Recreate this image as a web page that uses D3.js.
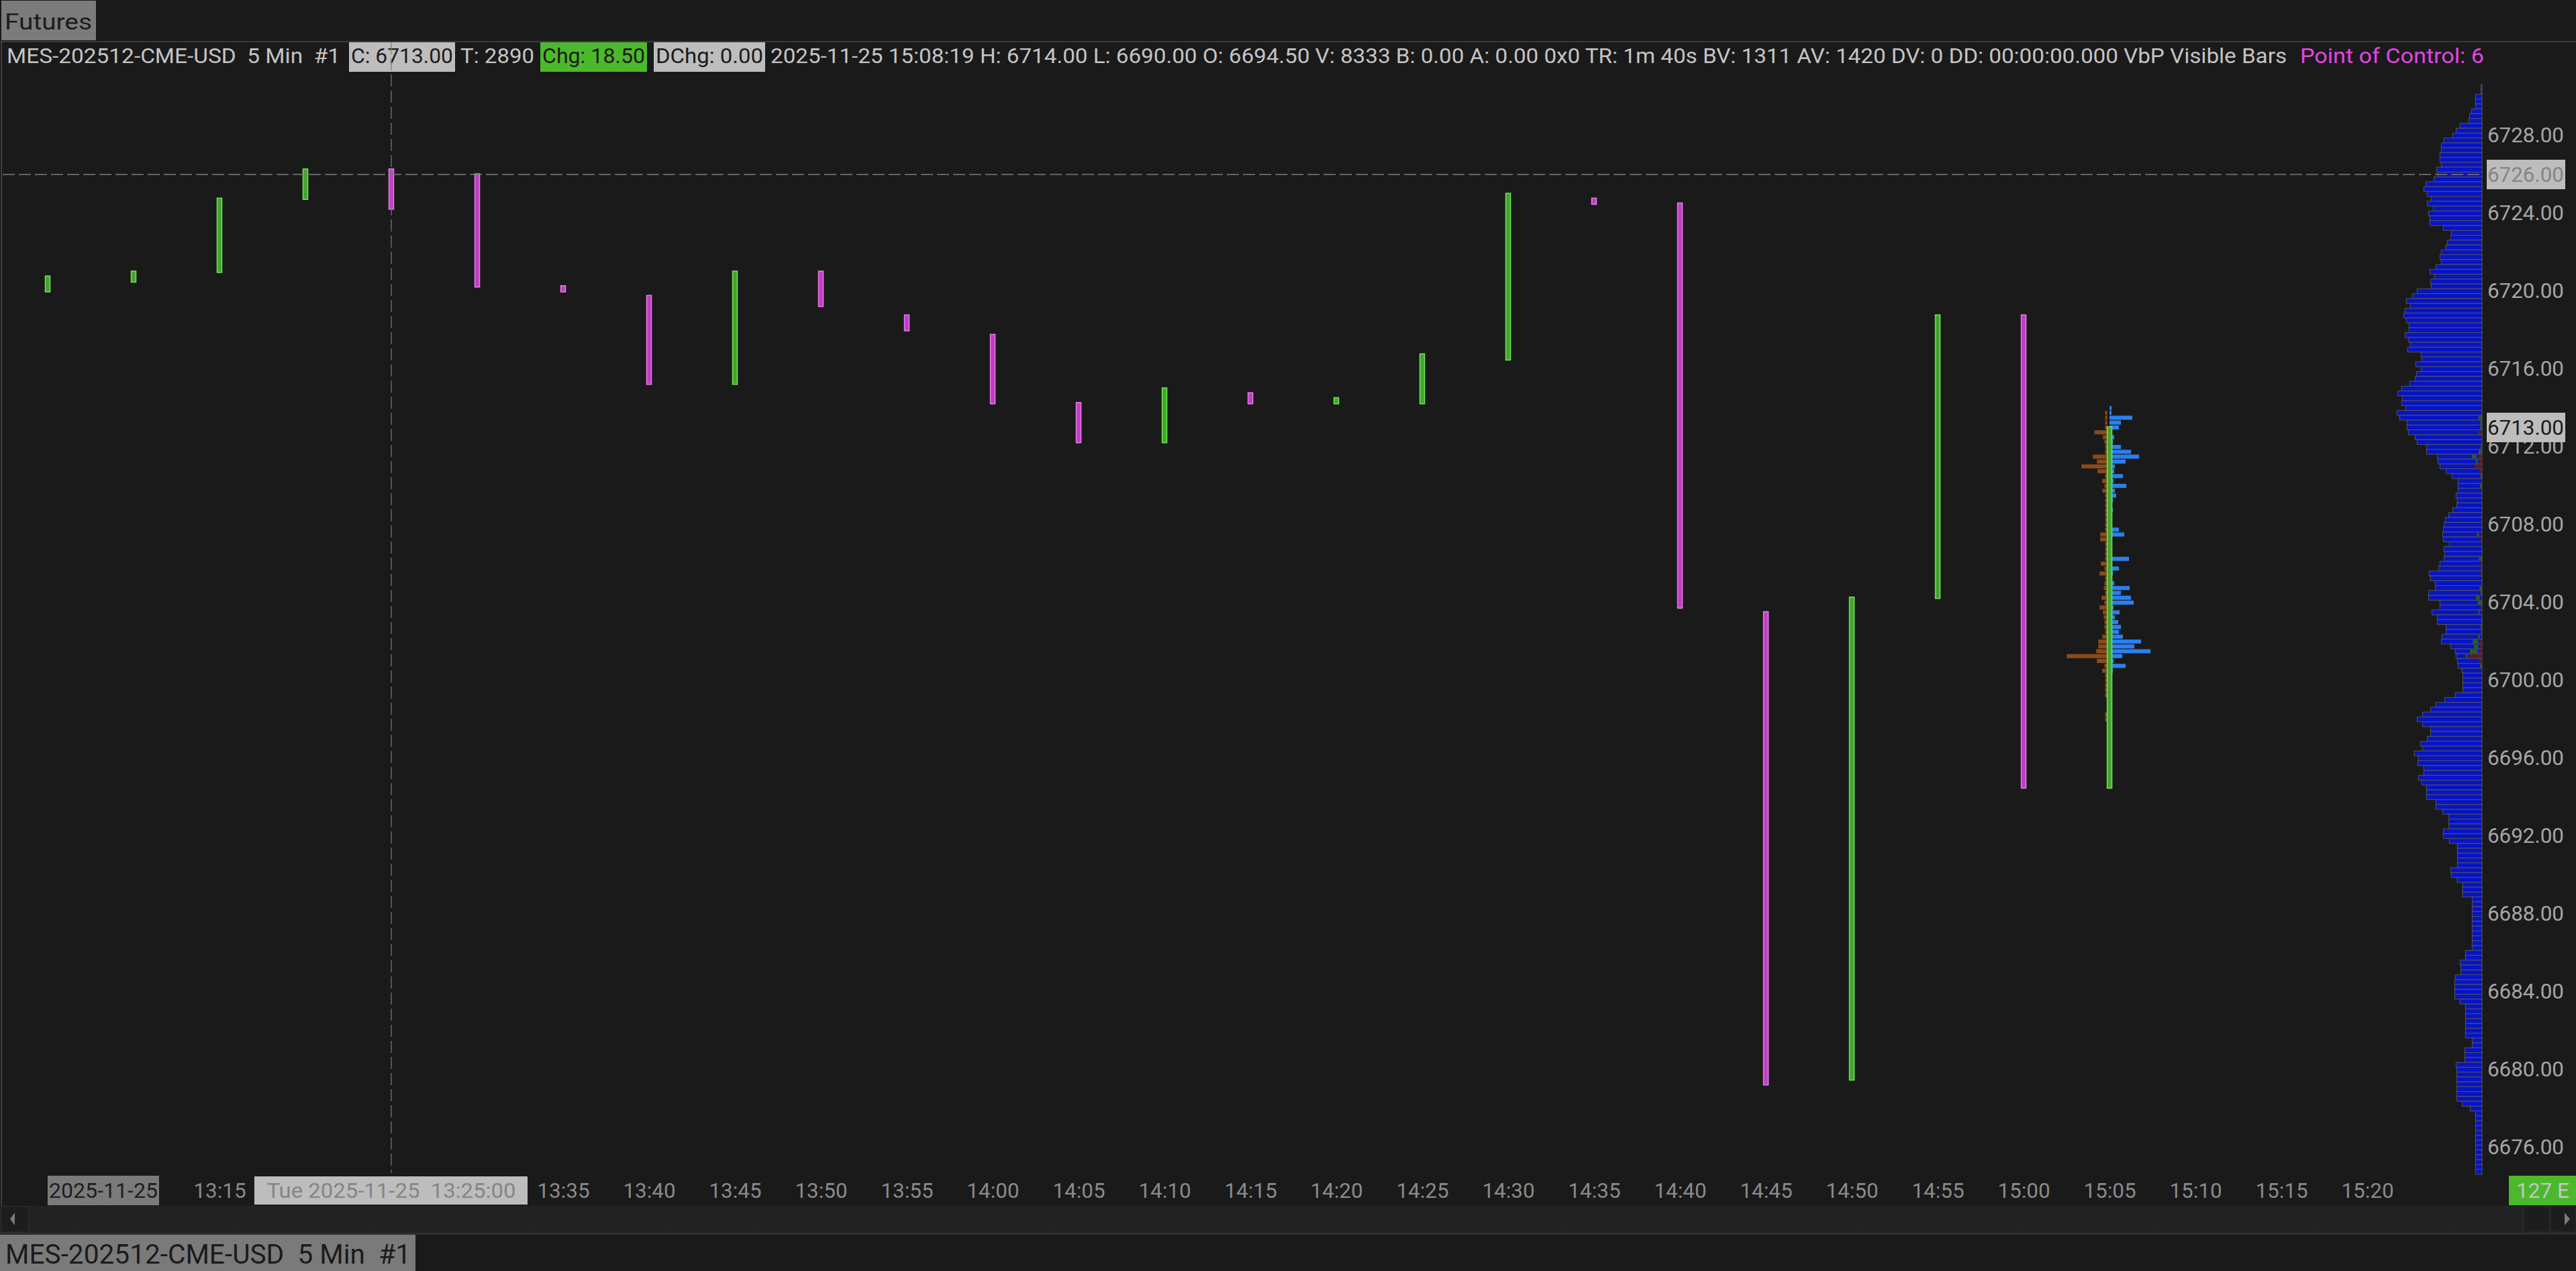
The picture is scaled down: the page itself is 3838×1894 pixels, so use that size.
<!DOCTYPE html>
<html><head><meta charset="utf-8">
<script src="https://cdn.jsdelivr.net/npm/d3@7"></script>
<style>
html,body{margin:0;padding:0;background:#1a1a1a;overflow:hidden}
text{white-space:pre;font-family:Roboto,"Liberation Sans",sans-serif}
</style>
</head><body>
<svg id="chart" width="3838" height="1894"></svg>
<script>
// ---------------- DATA ----------------
const barTimes = ["13:05","13:10","13:15","13:20","13:25","13:30","13:35","13:40","13:45","13:50","13:55","14:00","14:05","14:10","14:15","14:20","14:25","14:30","14:35","14:40","14:45","14:50","14:55","15:00","15:05"];
const barOpen  = [6720.00,6720.50,6721.00,6724.75,6726.25,6726.00,6720.25,6719.75,6715.25,6721.00,6718.75,6717.75,6714.25,6712.25,6714.75,6714.25,6714.25,6716.50,6724.75,6724.50,6703.50,6679.50,6704.25,6718.75,6694.50];
const barClose = [6720.75,6721.00,6724.75,6726.25,6724.25,6720.25,6720.00,6715.25,6721.00,6719.25,6718.00,6714.25,6712.25,6715.00,6714.25,6714.50,6716.75,6725.00,6724.50,6703.75,6679.25,6704.25,6718.75,6694.50,6713.00];

// time labels visible on the axis (13:20–13:30 are covered by the cursor label)
const timeTicks  = ["13:15","13:35","13:40","13:45","13:50","13:55","14:00","14:05","14:10","14:15","14:20","14:25","14:30","14:35","14:40","14:45","14:50","14:55","15:00","15:05","15:10","15:15","15:20"];
const priceTicks = [6728,6724,6720,6716,6712,6708,6704,6700,6696,6692,6688,6684,6680,6676];

// Volume by price (visible bars), from 6730.50 downward in 0.25 steps
const tickSize = 0.25;
const profileHigh = 6730.50;
const profileVolume = [
  5,5,
  29,29,29,47,  56,59,98,116,  131,170,182,182,  188,188,182,203,
  197,215,251,260,  245,227,245,218,  239,233,233,173,  137,140,155,161,
  182,188,182,206,  233,212,230,227,  290,311,338,320,  344,350,338,326,
  326,344,329,320,  332,272,269,296,  272,293,299,323,  359,377,356,359,
  341,380,368,335,  335,329,299,290,  248,248,200,197,  188,161,134,107,
  107,107,116,110,  113,131,149,164,  170,173,176,173,  146,170,167,170,
  188,194,236,230,  209,209,239,239,  188,188,224,200,  200,161,161,179,
  182,140,119,116,  110,107,89,86,  86,86,86,119,  167,206,230,266,
  290,266,230,230,  245,275,266,302,  284,287,260,260,  284,269,248,248,
  248,206,206,176,  149,149,149,173,  173,146,110,110,  110,110,110,140,
  137,111,87,87,  87,44,44,44,  44,44,44,44,  44,44,44,44,
  74,74,98,95,  95,119,122,122,  122,122,98,74,  74,74,74,74,
  74,74,44,44,  77,77,77,116,  113,113,113,113,  113,113,113,89,
  53,29,29,29,  29,29,29,29,  29,29,29,29,  29,29
];
// split segments (up / down volume of the developing bar) inside the profile
const splitPrices = [6713.50,6713.25,6713.00,6712.75,6712.50,6712.00,6711.75,6711.50,6711.25,6711.00,6710.75,6710.50,6710.25,6710.00,6709.75,6707.50,6707.25,6706.25,6706.00,6705.75,6705.50,6704.75,6704.50,6704.25,6704.00,6703.75,6703.50,6703.00,6702.75,6702.50,6702.25,6702.00,6701.75,6701.50,6701.25,6701.00,6700.75,6700.50];
const splitUp   = [16,8,8,0,0,6,15,21,9,0,0,7,0,10,0,10,0,14,0,4,0,12,7,17,19,0,6,4,7,4,8,26,20,35,8,0,10,0];
const splitDown = [0,0,0,16,4,0,0,19,13,34,10,0,4,0,4,7,7,0,7,0,7,0,0,4,0,7,4,0,0,0,4,10,10,13,59,13,0,4];

// Volume at price of the last bar (15:05), from 6714.00 downward
const vapHigh = 6714.00;
const vapSell = [0,9,9,9,9,57,19,12,9,9,64,46,115,43,9,22,12,21,9,9,9,9,9,9,9,9,31,31,9,9,9,9,28,12,34,9,12,15,9,25,12,34,19,15,12,12,9,22,40,40,49,181,46,12,22,9,9,9,9,9,0,0,0,9,9];
const vapBuy  = [9,9,102,51,42,6,21,15,51,96,132,72,24,21,60,18,75,24,30,15,0,15,0,0,0,42,66,0,0,0,0,87,0,42,15,0,21,90,51,96,108,18,45,24,39,51,42,60,141,111,183,57,18,72,15,0,0,0,0,0,0,0,0,0,0];

const headerTexts = ["MES-202512-CME-USD  5 Min  #1","C: 6713.00","T: 2890","Chg: 18.50","DChg: 0.00",
  "2025-11-25 15:08:19 H: 6714.00 L: 6690.00 O: 6694.50 V: 8333 B: 0.00 A: 0.00 0x0 TR: 1m 40s BV: 1311 AV: 1420 DV: 0 DD: 00:00:00.000 VbP Visible Bars",
  "Point of Control: 6"];
const lastPrice = 6713.00;
const cursorPrice = 6726.00;
const cursorTime = "13:25";
const cursorLabel = "Tue 2025-11-25  13:25:00";
const dateLabel = "2025-11-25";
const countdownLabel = "127 E";
const tabTop = "Futures";
const tabBottom = "MES-202512-CME-USD  5 Min  #1";

// ---------------- DRAW ----------------
const W = 3838, H = 1894;
const svg = d3.select("#chart");
const toMin = s => { const [h, m] = s.split(":").map(Number); return h * 60 + m; };

const x = d3.scaleLinear().domain([toMin("13:05"), toMin("15:05")]).range([71, 3143]);
const y = d3.scaleLinear().domain([6676, 6728]).range([1710, 202]);
const tickPx = y(0) - y(tickSize);

svg.append("rect").attr("width", W).attr("height", H).attr("fill", "#1a1a1a");

// scrollbar pattern
const defs = svg.append("defs");
const pat = defs.append("pattern").attr("id", "scr").attr("width", 3).attr("height", 3).attr("patternUnits", "userSpaceOnUse");
pat.append("rect").attr("width", 3).attr("height", 3).attr("fill", "#202020");
pat.append("rect").attr("width", 1).attr("height", 1).attr("fill", "#2c2c2c");
pat.append("rect").attr("x", 2).attr("y", 2).attr("width", 1).attr("height", 1).attr("fill", "#2a2a2a");

// top tab
svg.append("rect").attr("x", 2).attr("y", 1).attr("width", 141).attr("height", 59).attr("fill", "#7b7b7b");
svg.append("text").attr("x", 7).attr("y", 44).attr("font-size", 34).attr("fill", "#1b1b1b")
  .attr("textLength", 130).attr("lengthAdjust", "spacingAndGlyphs").text(tabTop);
// separator
svg.append("rect").attr("x", 0).attr("y", 61).attr("width", W).attr("height", 2).attr("fill", "#3a3a3a");
// left border
svg.append("rect").attr("x", 1.5).attr("y", 62).attr("width", 1.5).attr("height", 1735).attr("fill", "#4a4a4a");

// header line
const hdrLayout = [
  {x0: 10, w: 497, fill: "#c4c4c4"},
  {x0: 523, w: 152, fill: "#1b1b1b", box: [520, 678], bg: "#bdbdbd"},
  {x0: 686, w: 110, fill: "#c4c4c4"},
  {x0: 808, w: 153, fill: "#1b1b1b", box: [805, 964], bg: "#4cb82c"},
  {x0: 977, w: 160, fill: "#1b1b1b", box: [974, 1140], bg: "#bdbdbd"},
  {x0: 1148, w: 2259, fill: "#c4c4c4"},
  {x0: 3427, w: 274, fill: "#e445e4"}
];
const hdr = svg.append("g");
headerTexts.forEach((t, i) => {
  const L = hdrLayout[i];
  if (L.box) hdr.append("rect").attr("x", L.box[0]).attr("y", 63).attr("width", L.box[1] - L.box[0]).attr("height", 44).attr("fill", L.bg);
  hdr.append("text").attr("x", L.x0).attr("y", 94).attr("font-size", 32).attr("fill", L.fill)
    .attr("textLength", L.w).attr("lengthAdjust", "spacingAndGlyphs").text(t);
});

// ---- volume profile ----
const profRight = 3698;
const pw = d3.scaleLinear().domain([0, 380]).range([0, 126.7]);
const prof = profileVolume.map((v, i) => ({p: profileHigh - i * tickSize, v}));
svg.append("g").selectAll("rect").data(prof).join("rect")
  .attr("x", d => profRight - pw(d.v)).attr("y", d => y(d.p) - tickPx / 2)
  .attr("width", d => pw(d.v)).attr("height", tickPx)
  .attr("fill", "#0714c4").attr("stroke", "#555555").attr("stroke-width", 1);
const splits = splitPrices.map((p, i) => ({p, u: splitUp[i], d: splitDown[i]}));
const sg = svg.append("g");
sg.selectAll("rect.dn").data(splits.filter(s => s.d > 0)).join("rect").attr("class", "dn")
  .attr("x", d => profRight - pw(d.d)).attr("y", d => y(d.p) - tickPx / 2 + 1)
  .attr("width", d => pw(d.d)).attr("height", tickPx - 2).attr("fill", "#6b1a12");
sg.selectAll("rect.up").data(splits.filter(s => s.u > 0)).join("rect").attr("class", "up")
  .attr("x", d => profRight - pw(d.d) - (d.d > 0 ? 2 : 0) - pw(d.u)).attr("y", d => y(d.p) - tickPx / 2 + 1)
  .attr("width", d => pw(d.u)).attr("height", tickPx - 2).attr("fill", "#2d5e1c");

// ---- last bar volume at price ----
const lastX = x(toMin(barTimes[barTimes.length - 1]));
const vw = d3.scaleLinear().domain([0, 3]).range([0, 1]);
const vap = vapSell.map((s, i) => ({p: vapHigh - i * tickSize, s, b: vapBuy[i]}));
const vg = svg.append("g");
vg.selectAll("rect.s").data(vap.filter(d => d.s > 0)).join("rect").attr("class", "s")
  .attr("x", d => lastX - 3.5 - vw(d.s)).attr("y", d => y(d.p) - tickPx * 0.42)
  .attr("width", d => vw(d.s)).attr("height", tickPx * 0.84).attr("fill", "#8c4a1a");
vg.selectAll("rect.b").data(vap.filter(d => d.b > 0)).join("rect").attr("class", "b")
  .attr("x", lastX).attr("y", d => y(d.p) - tickPx * 0.42)
  .attr("width", d => vw(d.b)).attr("height", tickPx * 0.84).attr("fill", "#2a80f0");

// ---- candles (open/close bodies) ----
const bars = barTimes.map((t, i) => ({t, o: barOpen[i], c: barClose[i]}));
svg.append("g").selectAll("rect").data(bars).join("rect")
  .attr("x", d => x(toMin(d.t)) - 3.5).attr("width", 7)
  .attr("y", d => y(Math.max(d.o, d.c)) - 1)
  .attr("height", d => Math.abs(y(d.o) - y(d.c)) + 2)
  .attr("fill", d => d.c >= d.o ? "#42a52e" : "#c23cc6")
  .attr("stroke", d => d.c >= d.o ? "#6fe654" : "#e67ee8")
  .attr("stroke-width", 1.5);

// ---- right price axis ----
const yAxis = d3.axisRight(y).tickValues(priceTicks).tickFormat(d3.format(".2f")).tickSize(0).tickPadding(0);
const ya = svg.append("g").attr("transform", "translate(3706,0)").call(yAxis);
ya.select(".domain").remove();
ya.selectAll("text").attr("font-size", 31).attr("fill", "#a6a6a6").attr("font-family", "Roboto, 'Liberation Sans', sans-serif")
  .attr("textLength", 114).attr("lengthAdjust", "spacingAndGlyphs");
// price boxes
function priceBox(p, bg, fg) {
  svg.append("rect").attr("x", 3705).attr("y", y(p) - 22).attr("width", 117).attr("height", 44).attr("fill", bg);
  svg.append("text").attr("x", 3706).attr("y", y(p) + 11).attr("font-size", 31).attr("fill", fg)
    .attr("textLength", 114).attr("lengthAdjust", "spacingAndGlyphs").text(d3.format(".2f")(p));
}
priceBox(cursorPrice, "#bdbdbd", "#858585");
priceBox(lastPrice, "#bdbdbd", "#1b1b1b");

// ---- bottom time axis ----
const xAxis = d3.axisBottom(x).tickValues(timeTicks.map(toMin)).tickFormat((d, i) => timeTicks[i]).tickSize(0).tickPadding(0);
const xa = svg.append("g").attr("transform", "translate(0,1762)").call(xAxis);
xa.select(".domain").remove();
xa.selectAll("text").attr("font-size", 32).attr("fill", "#8a8a8a").attr("font-family", "Roboto, 'Liberation Sans', sans-serif")
  .attr("textLength", 78).attr("lengthAdjust", "spacingAndGlyphs");
// date box
svg.append("rect").attr("x", 71).attr("y", 1752).attr("width", 166).attr("height", 44).attr("fill", "#7a7a7a");
svg.append("text").attr("x", 73).attr("y", 1785).attr("font-size", 32).attr("fill", "#1e1e1e")
  .attr("textLength", 162).attr("lengthAdjust", "spacingAndGlyphs").text(dateLabel);
// cursor time box
const cx = x(toMin(cursorTime));
svg.append("rect").attr("x", 379).attr("y", 1753).attr("width", 407).attr("height", 42).attr("fill", "#bdbdbd");
svg.append("text").attr("x", cx).attr("y", 1785).attr("text-anchor", "middle").attr("font-size", 32).attr("fill", "#858585")
  .attr("textLength", 371).attr("lengthAdjust", "spacingAndGlyphs").text(cursorLabel);
// countdown box
svg.append("rect").attr("x", 3738).attr("y", 1752).attr("width", 100).attr("height", 44).attr("fill", "#4cb82c");
svg.append("text").attr("x", 3749).attr("y", 1785).attr("font-size", 32).attr("fill", "#c6c6c6")
  .attr("textLength", 79).attr("lengthAdjust", "spacingAndGlyphs").text(countdownLabel);

// ---- scrollbar ----
svg.append("rect").attr("x", 0).attr("y", 1797).attr("width", W).attr("height", 40).attr("fill", "url(#scr)");
svg.append("rect").attr("x", 2).attr("y", 1798).attr("width", 41).attr("height", 38).attr("fill", "#1d1d1d").attr("stroke", "#303030");
svg.append("path").attr("d", "M15,1816.5 L22,1807 L22,1826 Z").attr("fill", "#7a7a7a");
svg.append("rect").attr("x", 3760).attr("y", 1798).attr("width", 39).attr("height", 38).attr("fill", "#1d1d1d").attr("stroke", "#303030");
svg.append("rect").attr("x", 3800).attr("y", 1798).attr("width", 38).attr("height", 38).attr("fill", "#1d1d1d").attr("stroke", "#303030");
svg.append("path").attr("d", "M3829,1816.5 L3821,1807 L3821,1826 Z").attr("fill", "#7a7a7a");
svg.append("rect").attr("x", 0).attr("y", 1837).attr("width", W).attr("height", 3).attr("fill", "#2e2e2e");
// bottom tab
svg.append("rect").attr("x", 0).attr("y", 1840).attr("width", 619).attr("height", 54).attr("fill", "#7a7a7a");
svg.append("text").attr("x", 8).attr("y", 1883).attr("font-size", 40).attr("fill", "#1b1b1b")
  .attr("textLength", 604).attr("lengthAdjust", "spacingAndGlyphs").text(tabBottom);

// ---- crosshair ----
svg.append("line").attr("x1", 4).attr("x2", profRight).attr("y1", y(cursorPrice)).attr("y2", y(cursorPrice))
  .attr("stroke", "#7c7c7c").attr("stroke-width", 1.5).attr("stroke-dasharray", "18,6");
svg.append("line").attr("x1", cx).attr("x2", cx).attr("y1", 63).attr("y2", 1748)
  .attr("stroke", "#7c7c7c").attr("stroke-width", 1.2).attr("stroke-dasharray", "18,6");
</script>
</body></html>
